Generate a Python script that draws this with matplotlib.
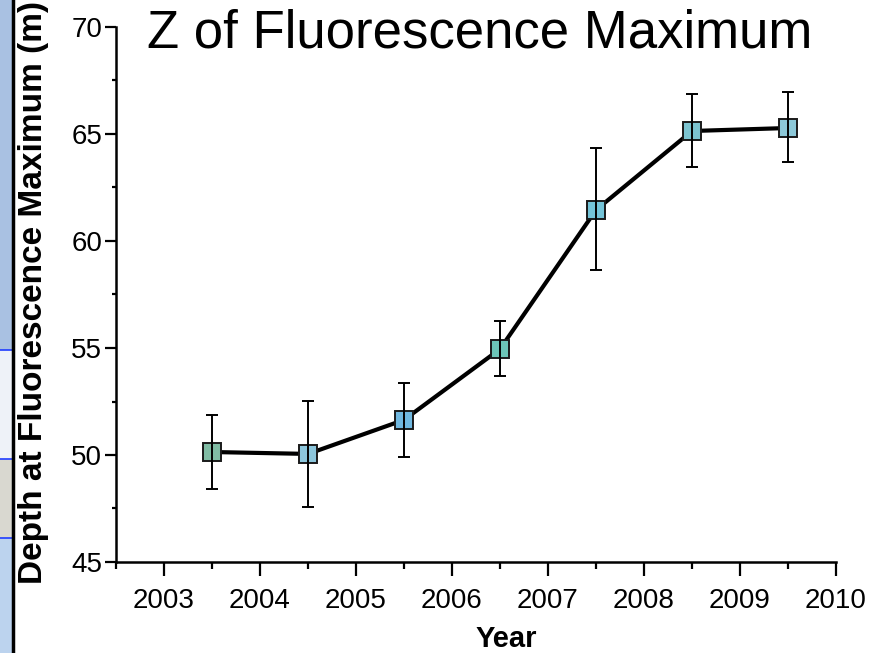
import matplotlib
matplotlib.use("Agg")
import matplotlib.pyplot as plt
from matplotlib.patches import Rectangle
from matplotlib.lines import Line2D

plt.rcParams['font.family'] = ['Liberation Sans', 'DejaVu Sans']

years = [2003.5, 2004.5, 2005.5, 2006.5, 2007.5, 2008.5, 2009.5]
depth = [50.14, 50.05, 51.64, 54.95, 61.45, 65.14, 65.28]
err_low = [48.41, 47.58, 49.90, 53.69, 58.64, 63.46, 63.69]
err_high = [51.87, 52.52, 53.36, 56.26, 64.35, 66.87, 66.96]
marker_colors = ['#80bca4', '#8cc6dc', '#70b8e0', '#6cc6b8', '#74c4d8', '#7cc4d0', '#8cc8d8']
xticks = [2003, 2004, 2005, 2006, 2007, 2008, 2009, 2010]
yticks = [45, 50, 55, 60, 65, 70]

W, H = 872, 653
fig = plt.figure(figsize=(W / 100, H / 100), dpi=100)

# decorative strip from neighbouring slide at left edge
def fx(px):
    return px / W
def fy(py):
    return 1 - py / H
strip = [(0, 350, '#a9c1e2'), (350, 459, '#eef2f8'), (459, 538, '#d9d8d0'), (538, 653, '#bcd3ee')]
for y0, y1, c in strip:
    fig.patches.append(Rectangle((0, fy(y1)), fx(12), fy(y0) - fy(y1), transform=fig.transFigure,
                                 facecolor=c, edgecolor='none', zorder=0))
for py in [350, 459, 538]:
    fig.lines.append(Line2D([0, fx(12)], [fy(py), fy(py)], transform=fig.transFigure, color='#1f3cff', lw=1.2))
fig.lines.append(Line2D([fx(13), fx(13)], [0, 1], transform=fig.transFigure, color='black', lw=2.5))

ax = fig.add_axes([116 / W, 1 - 562 / H, (836 - 116) / W, (562 - 27) / H])

ax.plot(years, depth, color='black', lw=3, zorder=2)
for x, y, c in zip(years, depth, marker_colors):
    ax.plot([x], [y], marker='s', ms=12.5, mfc=c, mec='#1a1a1a', mew=1.4, zorder=3, linestyle='none')
yerr = [[d - lo for d, lo in zip(depth, err_low)], [hi - d for d, hi in zip(depth, err_high)]]
ax.errorbar(years, depth, yerr=yerr, fmt='none', ecolor='black', elinewidth=1.4, capsize=4.5,
            capthick=1.4, zorder=4)

ax.set_xlim(2002.5, 2010)
ax.set_ylim(45, 70)
ax.set_xticks(xticks)
ax.set_xticks([2002.5 + i for i in range(8)], minor=True)
ax.set_yticks(yticks)
ax.set_yticks([47.5, 52.5, 57.5, 62.5, 67.5], minor=True)

for s in ['top', 'right']:
    ax.spines[s].set_visible(False)
for s in ['left', 'bottom']:
    ax.spines[s].set_linewidth(1.8)

ax.tick_params(axis='x', which='major', direction='out', length=10, width=1.6, labelsize=20, pad=9)
ax.tick_params(axis='x', which='minor', direction='out', length=5, width=1.6)
ax.tick_params(axis='y', which='major', direction='out', length=8, width=1.6, labelsize=20, pad=2)
ax.tick_params(axis='y', which='minor', direction='out', length=3, width=1.6)

ax.set_xlabel('Year', fontsize=21, fontweight='bold')
ax.xaxis.label.set_va('center')
ax.xaxis.set_label_coords(0.542, -0.144)
ax.set_ylabel('Depth at Fluorescence Maximum (m)', fontsize=24, fontweight='bold')
ax.yaxis.label.set_va('center')
ax.yaxis.set_label_coords(-0.115, 0.503)
ax.patch.set_alpha(0)

fig.text(480 / W, 1 - 34 / H, 'Z of Fluorescence Maximum', fontsize=38, ha='center', va='center')

fig.savefig('out.png', dpi=100)
